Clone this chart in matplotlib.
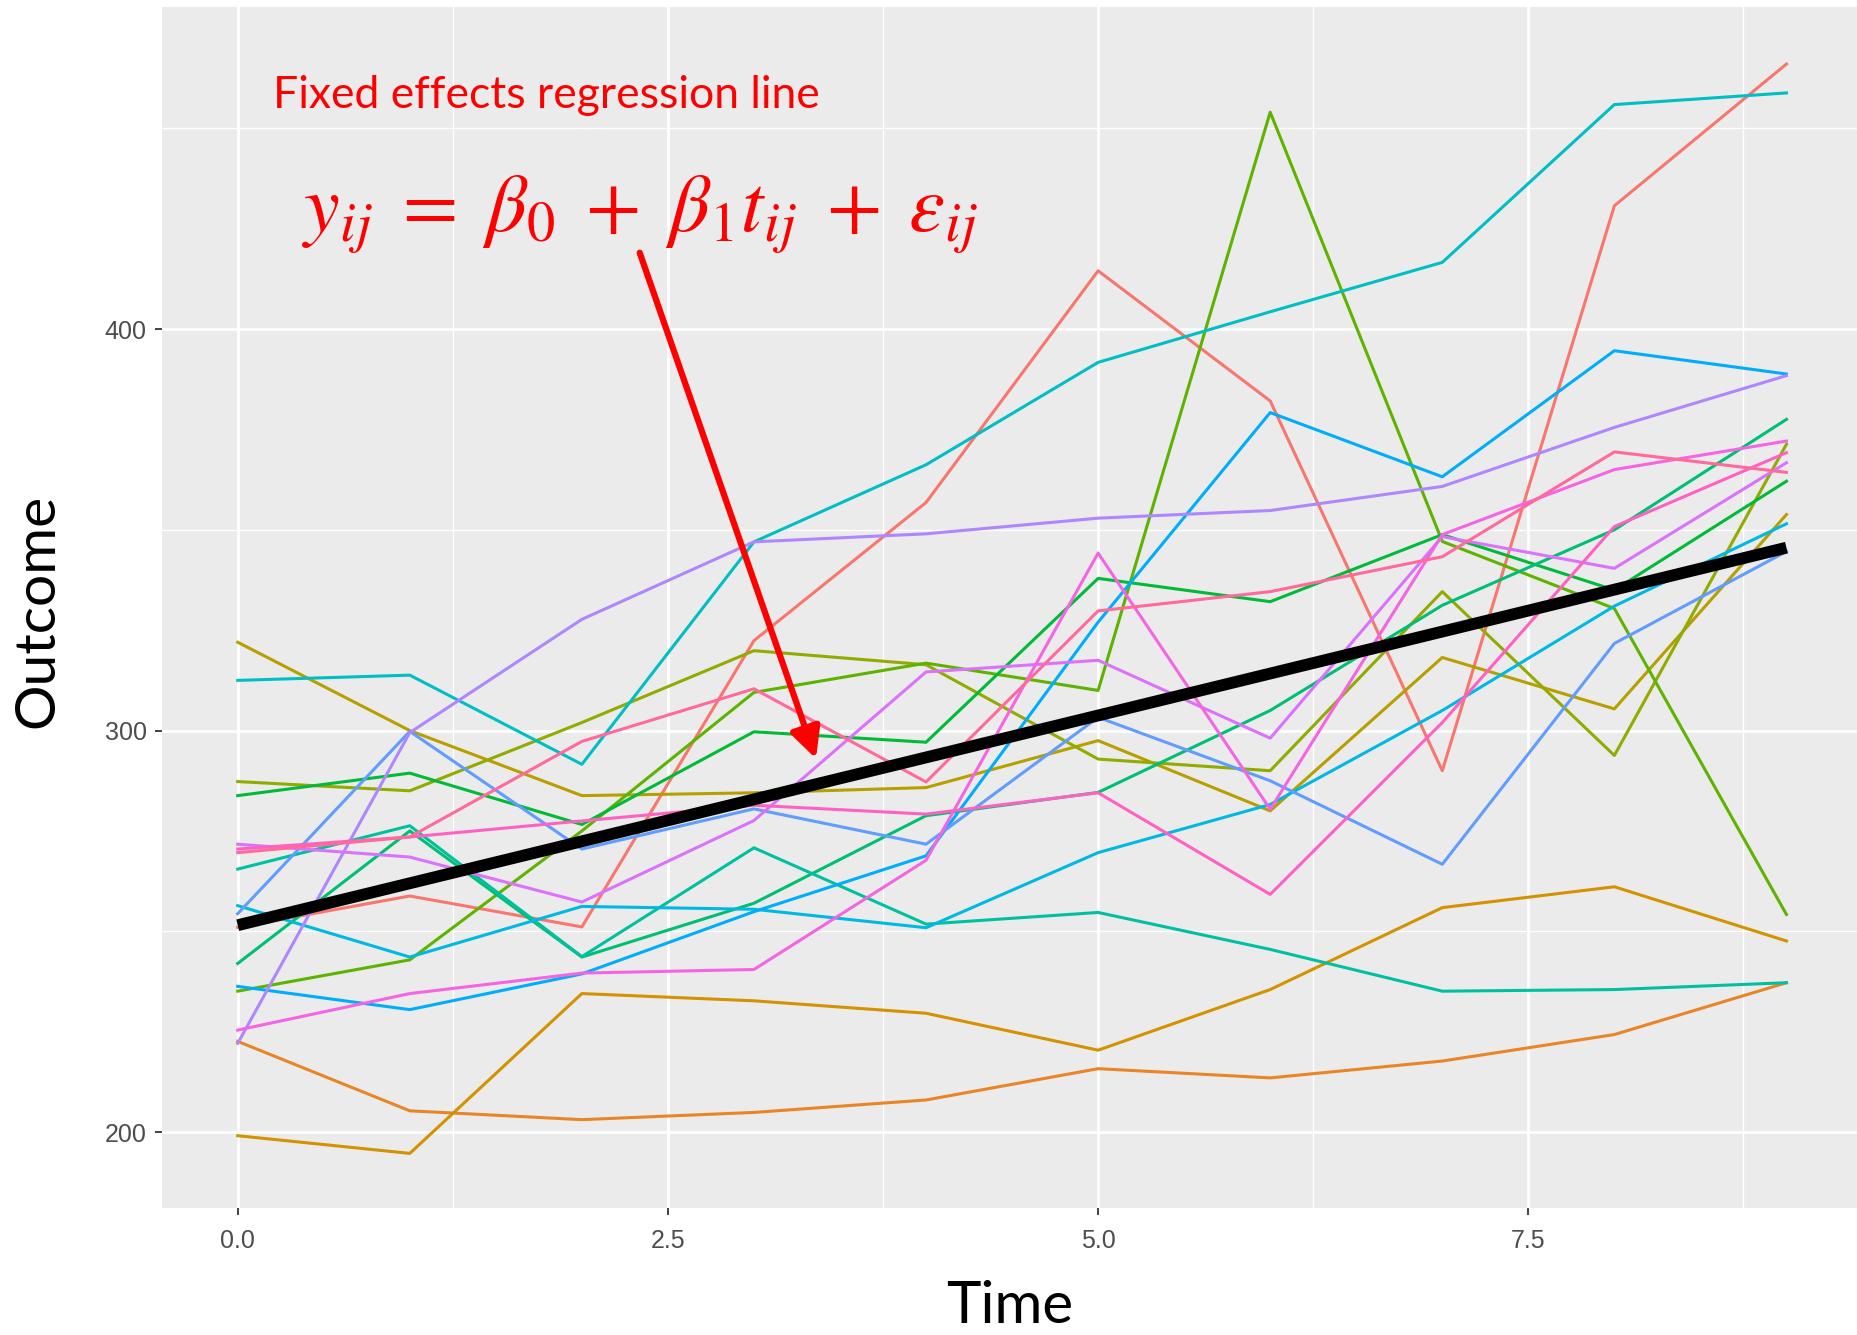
import numpy as np
import matplotlib.pyplot as plt
from matplotlib.ticker import MultipleLocator, FixedLocator

# time points and one trajectory per subject
time = np.arange(10)

salmon   = [251.0, 258.8, 251.1, 322.4, 356.8, 414.5, 382.1, 290.0, 430.7, 466.0]
orange   = [222.6, 205.3, 203.1, 204.9, 208.0, 215.8, 213.5, 217.7, 224.3, 237.2]
gold     = [199.1, 194.7, 234.5, 232.7, 229.6, 220.4, 235.5, 255.9, 261.1, 247.6]
olive1   = [322.0, 300.0, 283.8, 284.5, 285.8, 297.5, 280.0, 318.2, 305.4, 353.8]
olive2   = [287.3, 285.0, 302.0, 319.9, 316.4, 292.9, 290.0, 334.6, 293.8, 371.3]
ygreen   = [235.1, 242.9, 275.0, 309.5, 316.8, 310.0, 454.0, 347.1, 330.4, 254.2]
green    = [283.8, 289.4, 276.6, 299.7, 297.1, 337.9, 332.1, 348.8, 335.0, 362.1]
tgreen   = [242.0, 275.0, 243.6, 257.0, 278.8, 284.6, 305.0, 331.2, 350.0, 377.5]
teal     = [265.5, 276.3, 243.7, 270.8, 251.8, 254.7, 245.5, 235.1, 235.5, 237.2]
cyan     = [312.5, 313.8, 291.6, 347.0, 366.2, 391.7, 404.3, 416.6, 455.9, 458.8]
skyblue  = [256.4, 243.6, 256.2, 255.5, 250.9, 269.6, 281.6, 305.0, 331.0, 351.5]
ltblue   = [236.3, 230.5, 239.4, 254.9, 268.8, 327.0, 379.2, 363.2, 394.6, 388.8]
blue     = [254.4, 299.8, 270.5, 280.5, 271.7, 303.3, 287.5, 266.7, 321.7, 344.6]
lavender = [222.1, 299.5, 327.7, 347.0, 349.0, 352.9, 354.8, 360.8, 375.5, 388.4]
violet   = [271.7, 268.5, 257.3, 277.6, 314.6, 317.5, 298.1, 348.3, 340.4, 366.7]
magenta  = [225.4, 234.5, 239.6, 240.5, 267.7, 344.2, 280.4, 348.8, 365.0, 372.1]
hotpink  = [270.5, 273.5, 277.5, 281.4, 279.2, 284.5, 259.2, 302.0, 350.8, 369.2]
pink     = [269.6, 273.5, 297.3, 310.4, 287.2, 329.8, 334.6, 343.3, 369.4, 364.3]

subjects = [salmon, orange, gold, olive1, olive2, ygreen, green, tgreen, teal,
            cyan, skyblue, ltblue, blue, lavender, violet, magenta, hotpink, pink]
colors = ["#F8766D", "#E88526", "#D39200", "#B79F00", "#93AA00", "#5EB300",
          "#00BA38", "#00BF74", "#00C19F", "#00BFC4", "#00B9E3", "#00ADFA",
          "#619CFF", "#AE87FF", "#DB72FB", "#F564E3", "#FF61C3", "#FF699C"]

fig = plt.figure(figsize=(18.57, 13.35), dpi=100)
ax = fig.add_axes([162 / 1857, 1 - 1208 / 1335, 1 - 162 / 1857, (1208 - 7) / 1335])
ax.set_facecolor("#EBEBEB")

for vals, c in zip(subjects, colors):
    ax.plot(time, vals, color=c, lw=2.2, zorder=3)

# pooled OLS fit = fixed effects regression line
b1, b0 = np.polyfit(np.tile(time, len(subjects)), np.concatenate(subjects), 1)
ax.plot(time, b0 + b1 * time, color="black", lw=8.5, zorder=4, solid_capstyle="butt")

ax.set_xlim(-0.44, 9.41)
ax.set_ylim(181.1, 480.2)
ax.xaxis.set_major_locator(FixedLocator([0, 2.5, 5, 7.5]))
ax.xaxis.set_minor_locator(FixedLocator([1.25, 3.75, 6.25, 8.75]))
ax.yaxis.set_major_locator(MultipleLocator(100))
ax.yaxis.set_minor_locator(FixedLocator([250, 350, 450]))
ax.set_xticklabels(["0.0", "2.5", "5.0", "7.5"])
ax.grid(which="major", color="white", lw=2.0, zorder=0)
ax.grid(which="minor", color="white", lw=1.0, zorder=0)
ax.set_axisbelow(True)
for s in ax.spines.values():
    s.set_visible(False)
ax.tick_params(which="major", length=5, width=1.3, color="#333333",
               labelsize=18, labelcolor="#4D4D4D")
ax.tick_params(axis="x", pad=10)
ax.tick_params(axis="y", pad=6)
ax.tick_params(which="minor", length=0)
for lab in ax.get_xticklabels() + ax.get_yticklabels():
    lab.set_family("Liberation Sans")

ax.set_xlabel("Time", fontsize=42, family="Lato", va="center")
ax.set_ylabel("Outcome", fontsize=41, family="Lato", va="center", ha="center")
ax.xaxis.set_label_coords(0.5, -0.0818)
ax.yaxis.set_label_coords(-0.0734, 0.4975)

ax.text(0.0657, 0.926, "Fixed effects regression line", transform=ax.transAxes,
        color="red", fontsize=32, family="Lato", va="center", ha="left")
ax.text(0.0825, 0.8276,
        r"$y_{ij}\;=\;\beta_0\;+\;\beta_1 t_{ij}\;+\;\varepsilon_{ij}$",
        transform=ax.transAxes, color="red", fontsize=58, va="center", ha="left",
        math_fontfamily="stix")

ax.annotate("", xy=(3.36, 293), xytext=(2.336, 419),
            arrowprops=dict(arrowstyle="-|>", color="red", lw=4.5,
                            mutation_scale=46, shrinkA=0, shrinkB=0), zorder=5)

fig.savefig("out.png", dpi=100)
